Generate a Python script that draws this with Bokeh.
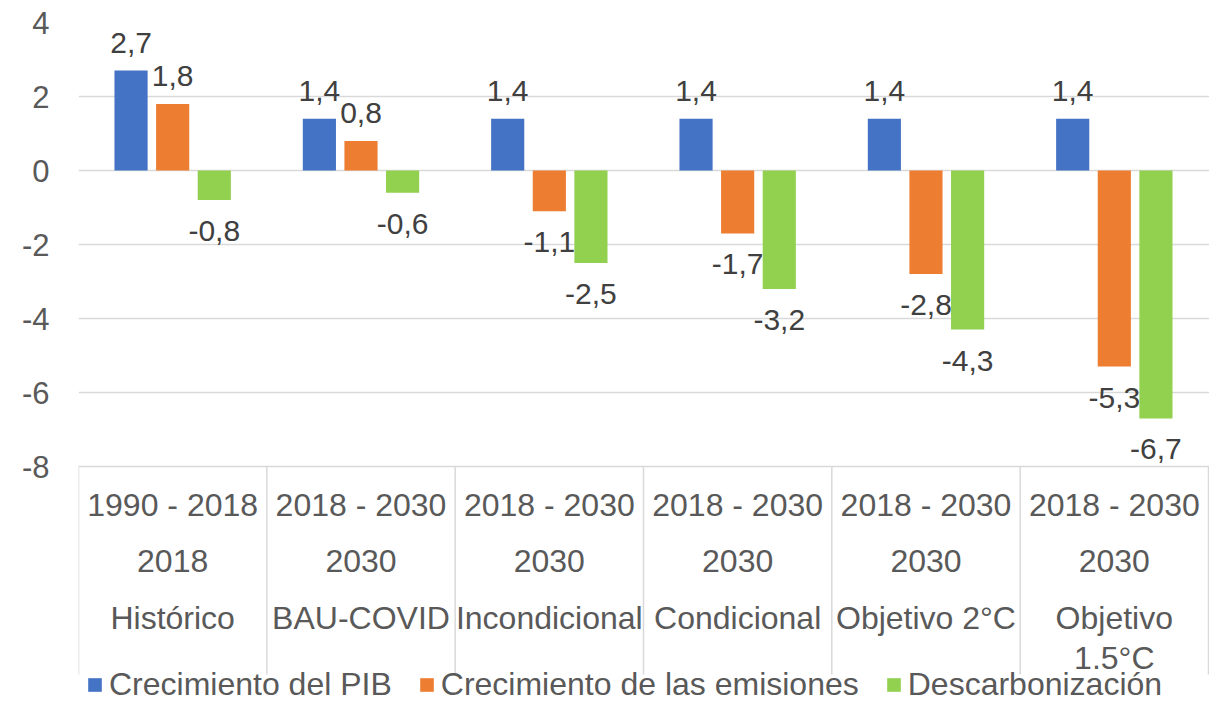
from bokeh.plotting import figure
from bokeh.models import (ColumnDataSource, Range1d, FixedTicker, Legend, LegendItem,
                          CustomJSTickFormatter)
from bokeh.core.properties import value
from bokeh.embed import file_html
from bokeh.resources import INLINE

# ---- data ----
periods = ["1990 - 2018", "2018 - 2030", "2018 - 2030", "2018 - 2030", "2018 - 2030", "2018 - 2030"]
years = ["2018", "2030", "2030", "2030", "2030", "2030"]
scenarios = ["Histórico", "BAU-COVID", "Incondicional", "Condicional", "Objetivo 2°C", "Objetivo\n1.5°C"]
pib = [2.7, 1.4, 1.4, 1.4, 1.4, 1.4]
emisiones = [1.8, 0.8, -1.1, -1.7, -2.8, -5.3]
descarbonizacion = [-0.8, -0.6, -2.5, -3.2, -4.3, -6.7]
series_names = ["Crecimiento del PIB", "Crecimiento de las emisiones", "Descarbonización"]
y_ticks = [-8, -6, -4, -2, 0, 2, 4]

colors = ["#4472C4", "#ED7D31", "#92D050"]
FONT = "Liberation Sans"
W, H = 1209, 701
LEFT, TOP = 78, 22
PX_PER_UNIT = 37.0
CAT_PX = 188.33

frame_w = W - LEFT
frame_h = H - TOP
y_top = 4.0
y_bottom = y_top - frame_h / PX_PER_UNIT
x_end = frame_w / CAT_PX

p = figure(width=W, height=H, output_backend="svg", toolbar_location=None,
           x_range=Range1d(0, x_end), y_range=Range1d(y_bottom, y_top),
           min_border_left=LEFT, min_border_top=TOP, min_border_right=0, min_border_bottom=0)
p.outline_line_color = None
p.background_fill_color = "white"
p.border_fill_color = "white"

# axes
p.xaxis.visible = False
p.xgrid.visible = False
p.yaxis.ticker = FixedTicker(ticks=y_ticks)
p.yaxis.formatter = CustomJSTickFormatter(code="return tick.toString().replace('.', ',');")
p.yaxis.axis_line_color = None
p.yaxis.major_tick_line_color = None
p.yaxis.minor_tick_line_color = None
p.yaxis.major_tick_in = 0
p.yaxis.major_tick_out = 0
p.yaxis.major_label_standoff = 29
p.yaxis.major_label_text_font = FONT
p.yaxis.major_label_text_font_size = "31px"
p.yaxis.major_label_text_color = "#595959"
p.ygrid.ticker = FixedTicker(ticks=y_ticks)
p.ygrid.grid_line_color = "#D9D9D9"
p.ygrid.grid_line_width = 1.5

n = len(pib)
centers = [i + 0.5 for i in range(n)]
offsets = [-0.221, 0.0, 0.221]
bar_w = 0.176
all_series = [pib, emisiones, descarbonizacion]

renderers = []
for vals, off, col in zip(all_series, offsets, colors):
    xs = [c + off for c in centers]
    src = ColumnDataSource(dict(x=xs, top=vals,
                                lab=[("%.1f" % v).replace(".", ",") for v in vals],
                                yoff=[-28 if v >= 0 else 31 for v in vals]))
    r = p.vbar(x="x", top="top", bottom=0, width=bar_w, source=src,
               fill_color=col, line_color=None)
    renderers.append(r)
    p.text(x="x", y="top", text="lab", source=src, y_offset="yoff",
           text_align="center", text_baseline="middle",
           text_font=value(FONT), text_font_size="30px", text_color="#404040")

# category table
ymin_tick = min(y_ticks)
sep_len = 208 / PX_PER_UNIT
p.segment(x0=list(range(n + 1)), x1=list(range(n + 1)),
          y0=[ymin_tick] * (n + 1), y1=[ymin_tick - sep_len] * (n + 1),
          line_color="#D9D9D9", line_width=1.5)

line1 = [s.split("\n")[0] for s in scenarios]
line2 = [s.split("\n")[1] if "\n" in s else "" for s in scenarios]
rows = [(periods, 38), (years, 94), (line1, 151), (line2, 191)]
for labels, off in rows:
    src = ColumnDataSource(dict(x=centers, y=[ymin_tick] * n, t=labels))
    p.text(x="x", y="y", text="t", source=src, y_offset=off,
           text_align="center", text_baseline="middle",
           text_font=value(FONT), text_font_size="32px", text_color="#595959")

legend = Legend(items=[LegendItem(label=nm, renderers=[r]) for nm, r in zip(series_names, renderers)],
                orientation="horizontal", location=(8, -2),
                glyph_width=17, glyph_height=17, label_standoff=6, spacing=26,
                padding=0, margin=0, border_line_color=None, background_fill_alpha=0,
                label_text_font=FONT, label_text_font_size="32px", label_text_color="#595959")
p.add_layout(legend, "center")

open("out.html", "w").write(file_html(p, INLINE))
